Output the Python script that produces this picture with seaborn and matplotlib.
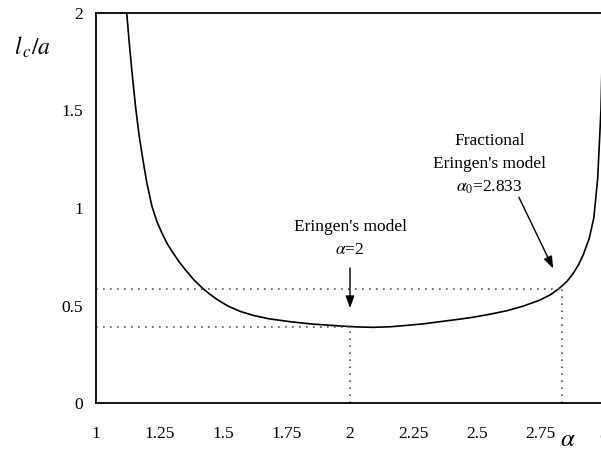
import matplotlib
matplotlib.use("Agg")
import matplotlib.pyplot as plt
import seaborn as sns
import pandas as pd

# Data
alpha = [1.121, 1.13, 1.14, 1.148, 1.157, 1.17, 1.185, 1.20, 1.22, 1.24,
         1.26, 1.28, 1.302, 1.325, 1.35, 1.385, 1.42, 1.45, 1.48, 1.52,
         1.567, 1.62, 1.68, 1.764, 1.85, 1.961, 2.03, 2.092, 2.16, 2.223,
         2.29, 2.354, 2.42, 2.486, 2.55, 2.617, 2.68, 2.748, 2.79, 2.827,
         2.855, 2.879, 2.90, 2.919, 2.942, 2.96, 2.975, 2.988, 2.997]
lc_over_a = [2.0, 1.86, 1.72, 1.615, 1.505, 1.37, 1.245, 1.13, 1.01, 0.93,
             0.87, 0.818, 0.772, 0.728, 0.686, 0.632, 0.588, 0.556, 0.528, 0.497,
             0.47, 0.449, 0.432, 0.417, 0.405, 0.395, 0.39, 0.388, 0.391, 0.398,
             0.406, 0.417, 0.428, 0.44, 0.455, 0.473, 0.496, 0.528, 0.556, 0.591,
             0.625, 0.665, 0.71, 0.762, 0.845, 0.95, 1.15, 1.5, 2.0]
xticks = [1, 1.25, 1.5, 1.75, 2, 2.25, 2.5, 2.75, 3]
xticklabels = ["1", "1.25", "1.5", "1.75", "2", "2.25", "2.5", "2.75", "3"]
yticks = [0, 0.5, 1, 1.5, 2]
yticklabels = ["0", "0.5", "1", "1.5", "2"]
alpha_eringen, lc_eringen = 2.0, 0.39
alpha_frac, lc_frac = 2.833, 0.585

sns.set_theme(style="white")
plt.rcParams['font.family'] = ['Liberation Serif', 'DejaVu Serif']
plt.rcParams['mathtext.fontset'] = 'stix'
plt.rcParams['text.color'] = 'black'

df = pd.DataFrame({"alpha": alpha, "lc": lc_over_a})

fig = plt.figure(figsize=(6.01, 4.58), dpi=100)
ax = fig.add_axes([96/601, 55/458, 508/601, 390/458])
sns.lineplot(data=df, x="alpha", y="lc", ax=ax, color="black", lw=1.2,
             sort=False, estimator=None)

ax.set_xlim(1, 3)
ax.set_ylim(0, 2)
ax.set_xticks(xticks)
ax.set_xticklabels(xticklabels)
ax.set_yticks(yticks)
ax.set_yticklabels(yticklabels)
ax.set_xlabel("")
ax.set_ylabel("")
for s in ax.spines.values():
    s.set_color("black")
    s.set_linewidth(1.3)
ax.tick_params(axis="both", direction="inout", length=9, width=1.1,
               color="black", labelsize=12.5, labelcolor="black")
ax.tick_params(axis="x", pad=12)
ax.tick_params(axis="y", pad=5)

dot = dict(color="#555555", lw=1.2, linestyle=(0, (1, 3.2)))
ax.plot([1, alpha_eringen], [lc_eringen, lc_eringen], **dot)
ax.plot([alpha_eringen, alpha_eringen], [0, lc_eringen], **dot)
ax.plot([1, alpha_frac], [lc_frac, lc_frac], **dot)
ax.plot([alpha_frac, alpha_frac], [0, lc_frac], **dot)

arrowprops = dict(arrowstyle="-|>,head_length=0.6,head_width=0.22",
                  color="black", lw=1.0, shrinkA=0, shrinkB=0)
ax.annotate("", xy=(2.0, 0.487), xytext=(2.0, 0.692), arrowprops=arrowprops)
ax.text(2.0, 0.905, "Eringen's model", ha="center", va="center", fontsize=12.5)
ax.text(2.0, 0.785, r"$\alpha$=2", ha="center", va="center", fontsize=12.5)

ax.annotate("", xy=(2.80, 0.69), xytext=(2.665, 1.055), arrowprops=arrowprops)
ax.text(2.55, 1.345, "Fractional", ha="center", va="center", fontsize=12.5)
ax.text(2.55, 1.225, "Eringen's model", ha="center", va="center", fontsize=12.5)
ax.text(2.55, 1.105, r"$\alpha_0$=2.833", ha="center", va="center", fontsize=12.5)

fig.text(14/601, 1 - 47/458, r"$l_{\,c}/a$", fontsize=17, ha="left", va="center")
fig.text(568/601, 1 - 440/458, r"$\alpha$", fontsize=18, ha="center", va="center")

fig.savefig("out.png", dpi=100)
